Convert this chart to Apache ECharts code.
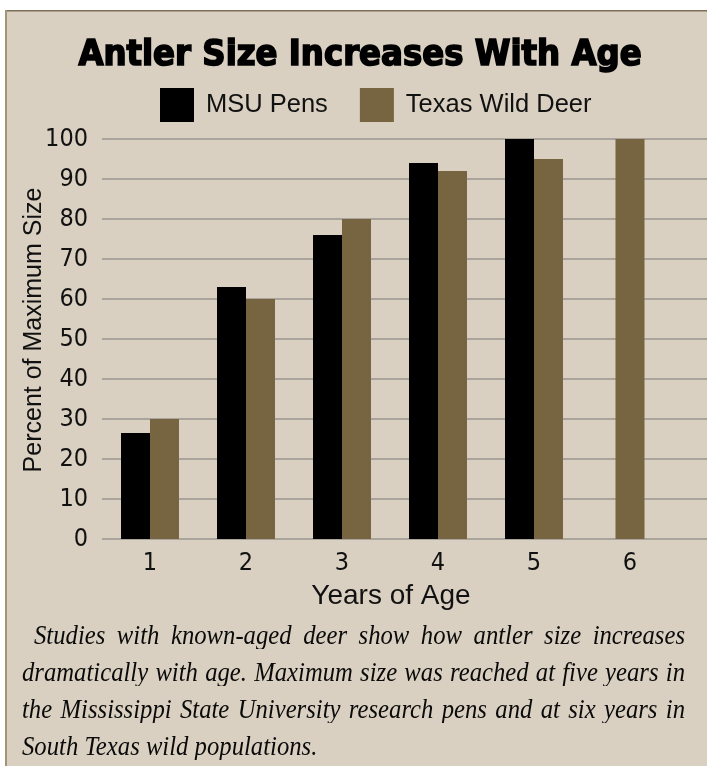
<!DOCTYPE html>
<html>
<head>
<meta charset="utf-8">
<script src="https://cdn.jsdelivr.net/npm/echarts@6/dist/echarts.min.js"></script>
<style>
html,body{margin:0;padding:0;background:#fff;}
#wrap{position:relative;width:707px;height:766px;overflow:hidden;}
#chart{position:absolute;left:0;top:0;width:707px;height:766px;}
#caption{position:absolute;left:22px;top:616px;width:663px;font-family:'Liberation Serif','DejaVu Serif',serif;font-style:italic;font-size:24.7px;line-height:37px;color:#0a0a0a;}
#caption .j{text-align:justify;text-align-last:justify;}
#caption .first{text-indent:12px;}
#caption div{transform:scaleY(1.07);transform-origin:50% 50%;}
</style>
</head>
<body>
<div id="wrap">
  <div id="chart"></div>
  <div id="caption">
    <div class="j first">Studies with known-aged deer show how antler size increases</div>
    <div class="j">dramatically with age. Maximum size was reached at five years in</div>
    <div class="j">the Mississippi State University research pens and at six years in</div>
    <div>South Texas wild populations.</div>
  </div>
</div>
<script>
// ---- data ----
var categories = ['1', '2', '3', '4', '5', '6'];
var msuPens = [26.5, 63, 76, 94, 100, null];
var texasWild = [30, 60, 80, 92, 95, 100];
var yTicks = [0, 10, 20, 30, 40, 50, 60, 70, 80, 90, 100];
var titleText = 'Antler Size Increases With Age';
var xName = 'Years of Age';
var yName = 'Percent of Maximum Size';

// Texas values paired with an MSU value, and lone Texas values (centred)
var texasPaired = texasWild.map(function (v, i) { return msuPens[i] == null ? null : v; });
var texasAlone = texasWild.map(function (v, i) { return msuPens[i] == null ? v : null; });

var BLACK = '#000000', BROWN = '#776440', PANEL = '#d9d0c1', GRID = '#aaa59c';
var sansNarrow = "'Liberation Sans Narrow','DejaVu Sans Condensed',sans-serif";
var sans = "'Liberation Sans',Arial,sans-serif";

var chart = echarts.init(document.getElementById('chart'), null, { renderer: 'canvas' });
chart.setOption({
  backgroundColor: '#ffffff',
  animation: false,
  graphic: [
    { type: 'rect', z: -10, shape: { x: 6, y: 10, width: 701, height: 756 }, style: { fill: PANEL } },
    { type: 'rect', z: -9, shape: { x: 6, y: 10, width: 701, height: 1.5 }, style: { fill: '#7a6e56' } },
    { type: 'rect', z: -9, shape: { x: 5, y: 10, width: 2, height: 756 }, style: { fill: '#a39478' } },
    { type: 'text', x: 360, y: 56, style: { text: titleText, align: 'center', verticalAlign: 'middle',
        font: "bold 36px 'DejaVu Sans Condensed','DejaVu Sans',sans-serif", fill: '#000',
        stroke: '#000', lineWidth: 1.6 } },
    { type: 'text', x: 391, y: 596, style: { text: xName, align: 'center', verticalAlign: 'middle',
        font: "28px " + sans, fill: '#111' } },
    { type: 'text', x: 34, y: 330, rotation: Math.PI / 2, style: { text: yName, align: 'center', verticalAlign: 'middle',
        font: "25px " + sans, fill: '#111' } }
  ],
  legend: {
    left: 160, top: 88, padding: 0,
    itemWidth: 34, itemHeight: 34, itemGap: 32,
    icon: 'rect',
    data: ['MSU Pens', 'Texas Wild Deer'],
    textStyle: { fontFamily: sans, fontSize: 25.5, color: '#111', padding: [0, 0, 0, 7] }
  },
  grid: [
    { left: 102, right: 29, top: 139, height: 400 },
    { left: 102, right: 0, top: 139, height: 400 }
  ],
  xAxis: [
    { type: 'category', gridIndex: 0, data: categories,
      axisLine: { show: false }, axisTick: { show: false },
      axisLabel: { fontFamily: sansNarrow, fontSize: 25, color: '#111', margin: 12 } },
    { type: 'category', gridIndex: 0, data: categories, show: false },
    { type: 'category', gridIndex: 1, data: categories, show: false }
  ],
  yAxis: [
    { type: 'value', gridIndex: 0, min: 0, max: 100, interval: 10,
      axisLine: { show: false }, axisTick: { show: false }, splitLine: { show: false },
      axisLabel: { fontFamily: sansNarrow, fontSize: 25, color: '#111', margin: 14,
        customValues: yTicks } },
    { type: 'value', gridIndex: 1, min: 0, max: 100, interval: 10,
      axisLine: { show: false }, axisTick: { show: false }, axisLabel: { show: false },
      splitLine: { show: true, lineStyle: { color: GRID, width: 2 } } }
  ],
  series: [
    { name: 'MSU Pens', type: 'bar', xAxisIndex: 0, yAxisIndex: 0, data: msuPens,
      barWidth: 29, barGap: '0%', itemStyle: { color: BLACK } },
    { name: 'Texas Wild Deer', type: 'bar', xAxisIndex: 0, yAxisIndex: 0, data: texasPaired,
      barWidth: 29, barGap: '0%', itemStyle: { color: BROWN } },
    { name: 'Texas Wild Deer', type: 'bar', xAxisIndex: 1, yAxisIndex: 0, data: texasAlone,
      barWidth: 29, itemStyle: { color: BROWN } }
  ]
});
</script>
</body>
</html>
